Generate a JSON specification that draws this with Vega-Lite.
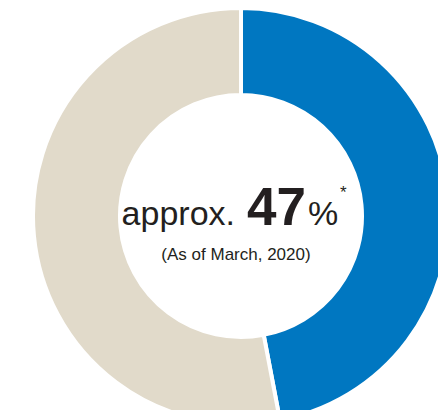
{
  "$schema": "https://vega.github.io/schema/vega-lite/v6.json",
  "width": 394,
  "height": 388,
  "padding": {"left": 44, "top": 22, "right": 0, "bottom": 0},
  "autosize": {"type": "none"},
  "background": "white",
  "config": {"view": {"stroke": null}},
  "datasets": {
    "share": [
      {"group": "Share", "value": 47, "rank": 1},
      {"group": "Other", "value": 53, "rank": 2}
    ],
    "l1": [{"label": "approx."}],
    "l2": [{"label": "47"}],
    "l3": [{"label": "%"}],
    "l4": [{"label": "*"}],
    "l5": [{"label": "(As of March, 2020)"}]
  },
  "layer": [
    {
      "data": {"name": "share"},
      "mark": {"type": "arc", "outerRadius": 208, "innerRadius": 121, "stroke": "white", "strokeWidth": 4},
      "encoding": {
        "theta": {"field": "value", "type": "quantitative", "stack": true},
        "order": {"field": "rank", "type": "quantitative"},
        "color": {"field": "group", "type": "nominal", "scale": {"domain": ["Share", "Other"], "range": ["#0077C1", "#E1DACA"]}, "legend": null}
      }
    },
    {
      "data": {"name": "l1"},
      "mark": {"type": "text", "align": "right", "baseline": "alphabetic", "dx": -6, "dy": 9, "font": "Liberation Sans, Arial, sans-serif", "fontSize": 34, "color": "#231F20"},
      "encoding": {"text": {"field": "label"}}
    },
    {
      "data": {"name": "l2"},
      "mark": {"type": "text", "align": "left", "baseline": "alphabetic", "dx": 6, "dy": 9, "font": "Liberation Sans, Arial, sans-serif", "fontSize": 53, "fontWeight": "bold", "color": "#231F20"},
      "encoding": {"text": {"field": "label"}}
    },
    {
      "data": {"name": "l3"},
      "mark": {"type": "text", "align": "left", "baseline": "alphabetic", "dx": 67, "dy": 9, "font": "Liberation Sans, Arial, sans-serif", "fontSize": 34, "color": "#231F20"},
      "encoding": {"text": {"field": "label"}}
    },
    {
      "data": {"name": "l4"},
      "mark": {"type": "text", "align": "left", "baseline": "top", "dx": 99, "dy": -31, "font": "Liberation Sans, Arial, sans-serif", "fontSize": 17, "color": "#231F20"},
      "encoding": {"text": {"field": "label"}}
    },
    {
      "data": {"name": "l5"},
      "mark": {"type": "text", "align": "center", "baseline": "alphabetic", "dx": -5, "dy": 44, "font": "Liberation Sans, Arial, sans-serif", "fontSize": 17, "color": "#231F20"},
      "encoding": {"text": {"field": "label"}}
    }
  ]
}
